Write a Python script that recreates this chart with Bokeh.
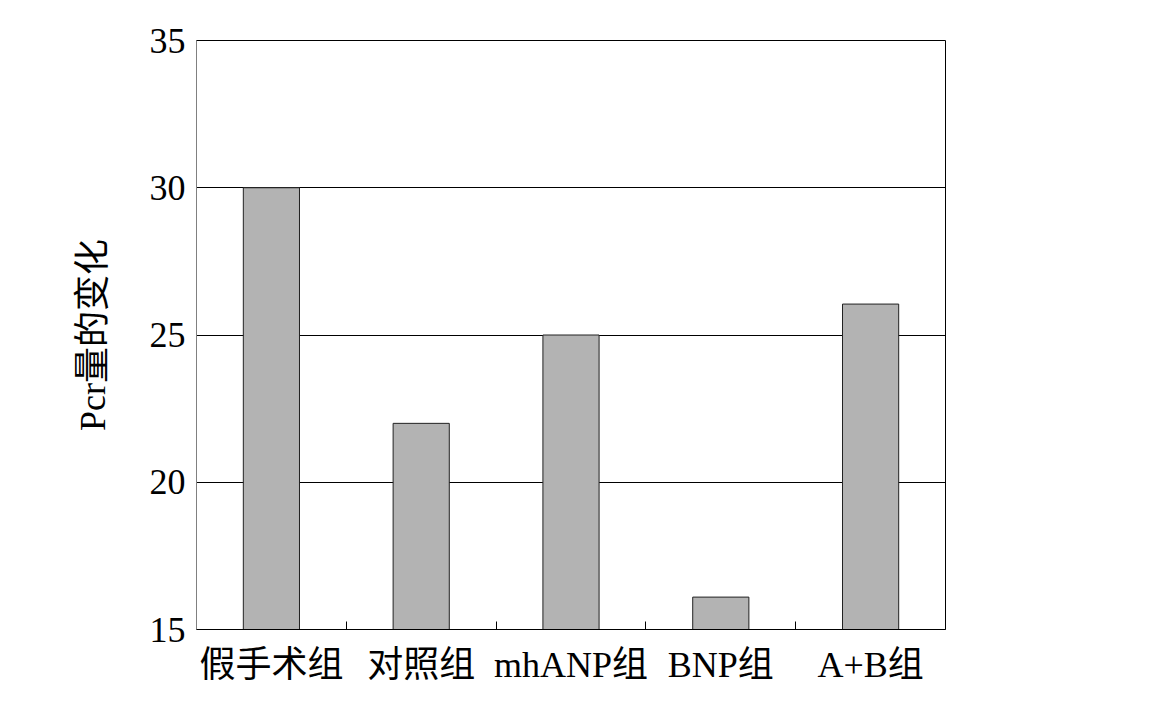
from bokeh.plotting import figure
from bokeh.models import FixedTicker, Range1d, ColumnDataSource
from bokeh.embed import file_html
from bokeh.resources import INLINE

categories = ["假手术组", "对照组", "mhANP组", "BNP组", "A+B组"]
values = [30.0, 22.0, 25.0, 16.1, 26.05]
y_ticks = [15, 20, 25, 30, 35]
y_label = "Pcr量的变化"

FONT = "'Liberation Serif', 'Noto Sans CJK SC', serif"

xs = list(range(1, len(categories) + 1))
src = ColumnDataSource(dict(x=xs, top=values, bottom=[15] * len(values)))

p = figure(width=1147, height=696, output_backend="svg", toolbar_location=None,
           x_range=Range1d(0.5, 5.5), y_range=Range1d(15, 35),
           min_border_left=196, min_border_right=202, min_border_top=40, min_border_bottom=67)
p.background_fill_color = "white"
p.border_fill_color = "white"
p.outline_line_color = "black"
p.outline_line_width = 1

p.vbar(x="x", top="top", bottom="bottom", width=0.375, source=src,
       fill_color="#b3b3b3", line_color="#222222", line_width=1)

# x axis
p.xaxis.ticker = FixedTicker(ticks=xs, minor_ticks=[1.5, 2.5, 3.5, 4.5])
p.xaxis.major_label_overrides = {x: c for x, c in zip(xs, categories)}
p.xaxis.major_tick_in = 0
p.xaxis.major_tick_out = 0
p.xaxis.minor_tick_in = 8
p.xaxis.minor_tick_out = 0
p.xaxis.minor_tick_line_color = "black"
p.xaxis.axis_line_color = "black"
p.xaxis.major_label_text_font = FONT
p.xaxis.major_label_text_font_size = "36px"
p.xaxis.major_label_text_color = "black"
p.xaxis.major_label_standoff = 15

# y axis
p.yaxis.ticker = FixedTicker(ticks=y_ticks)
p.yaxis.major_tick_in = 0
p.yaxis.major_tick_out = 0
p.yaxis.minor_tick_line_color = None
p.yaxis.axis_line_color = "#808080"
p.yaxis.major_label_text_font = FONT
p.yaxis.major_label_text_font_size = "36px"
p.yaxis.major_label_text_color = "black"
p.yaxis.major_label_standoff = 11
p.yaxis.axis_label = y_label
p.yaxis.axis_label_text_font = FONT
p.yaxis.axis_label_text_font_size = "36px"
p.yaxis.axis_label_text_font_style = "normal"
p.yaxis.axis_label_text_color = "black"
p.yaxis.axis_label_standoff = 34

p.xgrid.grid_line_color = None
p.ygrid.grid_line_color = "black"
p.ygrid.grid_line_width = 1

open("out.html", "w").write(file_html(p, INLINE))
